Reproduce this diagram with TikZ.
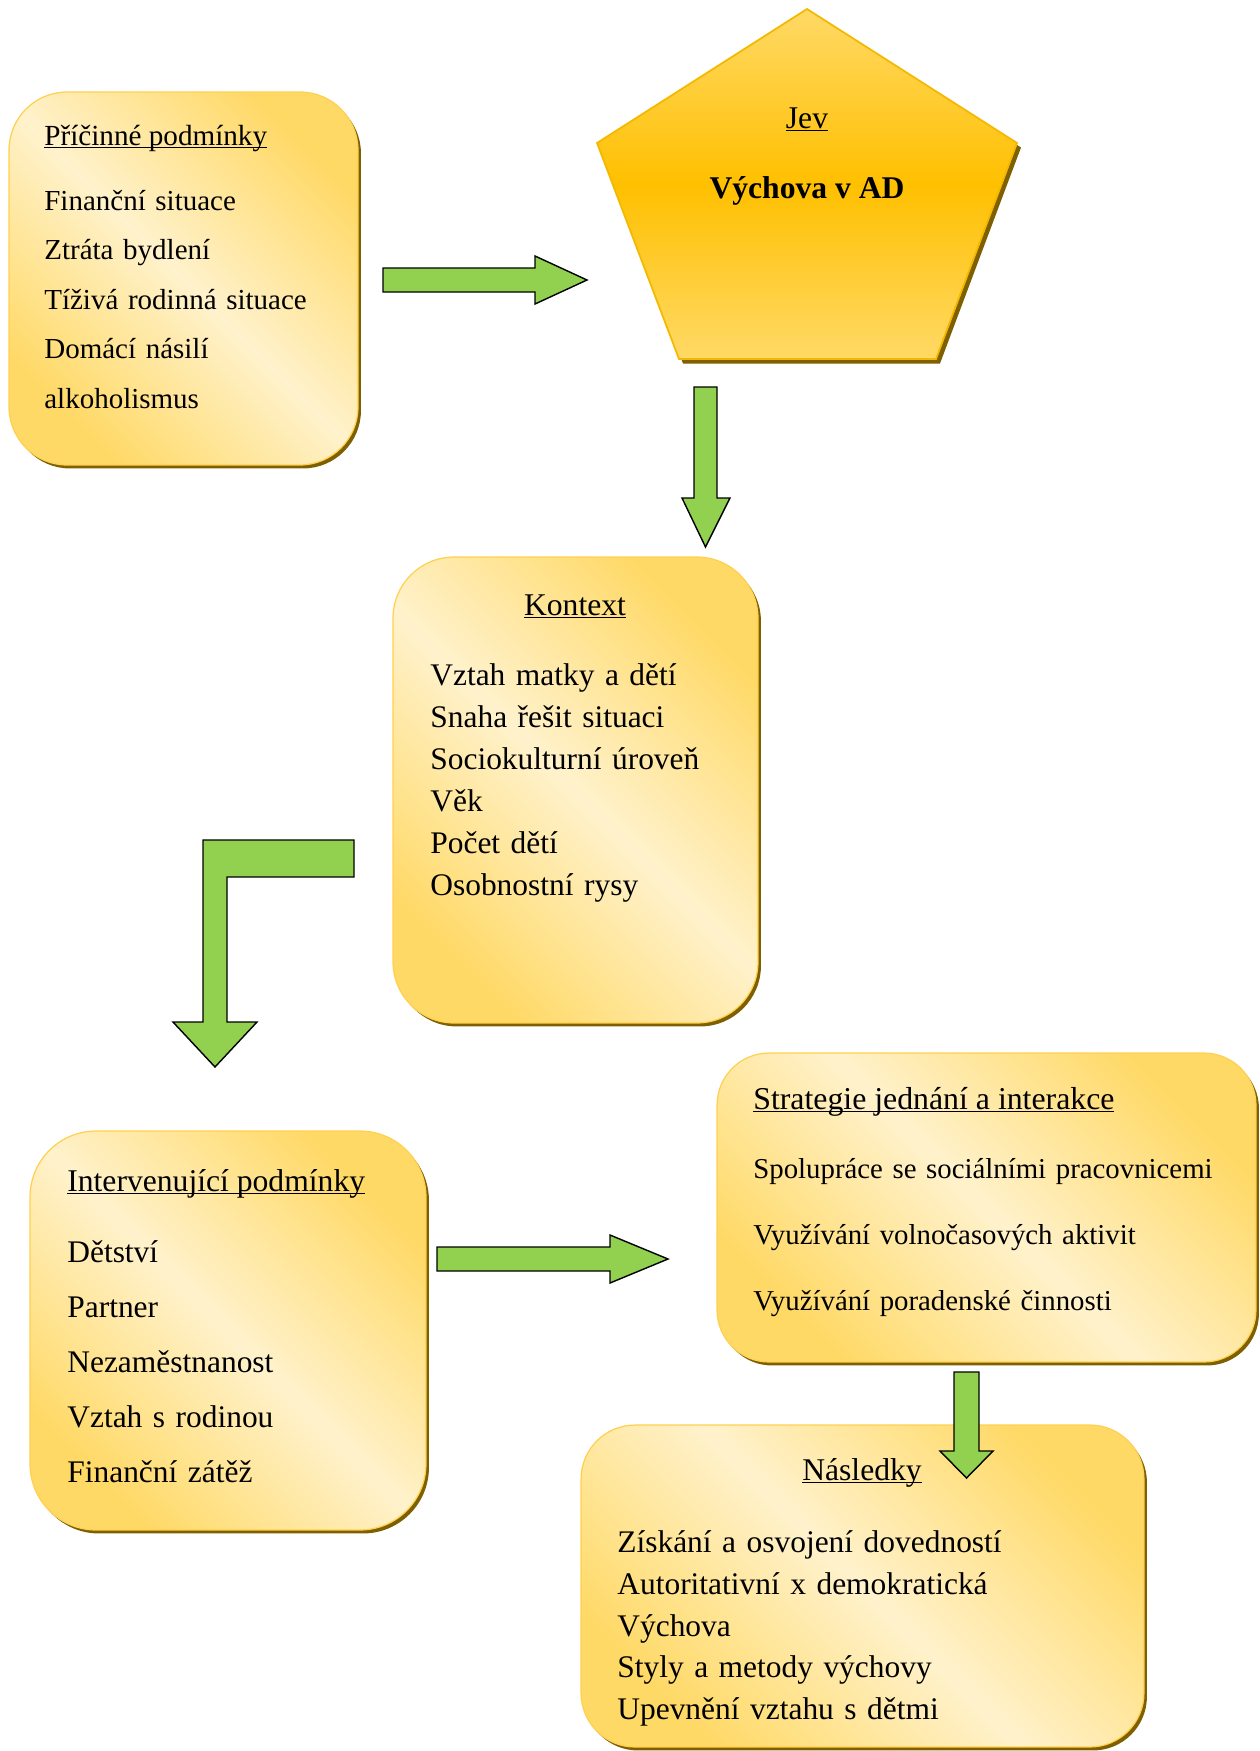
\documentclass[tikz,border=0pt]{standalone}
\usepackage{fontspec}
\setmainfont{Liberation Serif}
\usetikzlibrary{calc, positioning, shadows}

\definecolor{boxgold}{HTML}{FFD966}
\definecolor{boxcream}{HTML}{FFF2CC}
\definecolor{boxedge}{HTML}{FFD04F}
\definecolor{shadowbrown}{HTML}{7F6000}
\definecolor{jevgold}{HTML}{FFC000}
\definecolor{jevlight}{HTML}{FFD966}
\definecolor{jevedge}{HTML}{F5B800}
\definecolor{arrowgreen}{HTML}{92D050}

\newsavebox{\titlebox}
\newcommand{\undl}[1]{\sbox{\titlebox}{#1}\rlap{\rule[-1.7pt]{\wd\titlebox}{0.65pt}}\usebox{\titlebox}}

\tikzset{
    box/.style={rounded corners=#1, draw=boxedge, line width=0.7pt,
        top color=boxgold, bottom color=boxgold, middle color=boxcream,
        shading angle=-45,
        general shadow={fill=shadowbrown, shadow xshift=0.06cm, shadow yshift=-0.07cm}},
    jev/.style={draw=jevedge, line width=1pt, line join=miter,
        top color=jevlight, bottom color=jevlight, middle color=jevgold,
        general shadow={fill=shadowbrown, shadow xshift=0.08cm, shadow yshift=-0.09cm}},
    blockarrow/.style={fill=arrowgreen, draw=black, line width=0.8pt, line join=miter},
    title/.style={inner sep=0pt, anchor=base west},
    list/.style={inner sep=0pt, anchor=base west, align=left, text width=10cm}
}

\begin{document}
\begin{tikzpicture}[x=0.02cm, y=-0.02cm]
      \useasboundingbox (0,0) rectangle (1260,1751);

      % boxes
      \node[box=1.16cm, minimum width=6.98cm, minimum height=7.46cm] (pric) at (183.5,278.5) {};
      \node[box=1.22cm, minimum width=7.30cm, minimum height=9.32cm] (kont) at (575.5,790) {};
      \node[box=1.32cm, minimum width=7.92cm, minimum height=7.98cm] (interv) at (228,1330.5) {};
      \node[box=1.04cm, minimum width=10.78cm, minimum height=6.18cm] (strat) at (986.5,1207.5) {};
      \node[box=1.08cm, minimum width=11.26cm, minimum height=6.44cm] (nasl) at (862.5,1586) {};

      % pentagon
      \coordinate (jtop) at (807,9);
      \coordinate (jright) at (1017,143);
      \coordinate (jbr) at (936,359);
      \coordinate (jbl) at (679,359);
      \coordinate (jleft) at (597,143);
      \path[jev] (jtop) -- (jright) -- (jbr) -- (jbl) -- (jleft) -- cycle;

      % texts
      \node[title, font=\fontsize{16.6}{20}\selectfont] (pricT) at (44,145) {\undl{Příčinné podmínky}};
      \node[list, font=\fontsize{16.5}{28.2}\selectfont] (pricL) at (44,210)
        {Finanční situace\\ Ztráta bydlení\\ Tíživá rodinná situace\\ Domácí násilí\\ alkoholismus};

      \node[title, anchor=base, font=\fontsize{18}{22}\selectfont] (jevT) at (807,128) {\undl{Jev}};
      \node[title, anchor=base, font=\fontsize{18}{22}\selectfont\bfseries] (jevL) at (807,198) {Výchova v AD};

      \node[title, anchor=base, font=\fontsize{18}{22}\selectfont] (kontT) at (575,615) {\undl{Kontext}};
      \node[list, font=\fontsize{17.9}{24}\selectfont] (kontL) at (430,685)
        {Vztah matky a dětí\\ Snaha řešit situaci\\ Sociokulturní úroveň\\ Věk\\ Počet dětí\\ Osobnostní rysy};

      \node[title, font=\fontsize{18}{22}\selectfont] (intervT) at (67,1191) {\undl{Intervenující podmínky}};
      \node[list, font=\fontsize{17.9}{31.4}\selectfont] (intervL) at (67,1262)
        {Dětství\\ Partner\\ Nezaměstnanost\\ Vztah s rodinou\\ Finanční zátěž};

      \node[title, font=\fontsize{18.1}{22}\selectfont] (stratT) at (753,1109) {\undl{Strategie jednání a interakce}};
      \node[list, font=\fontsize{16.4}{37.8}\selectfont] (stratL) at (753,1178)
        {Spolupráce se sociálními pracovnicemi\\ Využívání volnočasových aktivit\\ Využívání poradenské činnosti};

      \node[title, anchor=base, font=\fontsize{18}{22}\selectfont] (naslT) at (862,1480) {\undl{Následky}};
      \node[list, font=\fontsize{17.9}{23.9}\selectfont] (naslL) at (617,1552)
        {Získání a osvojení dovedností\\ Autoritativní x demokratická\\ Výchova\\ Styly a metody výchovy\\ Upevnění vztahu s dětmi};

      % arrows
      \draw[blockarrow] (383,268) -- (535,268) -- (535,256) -- (587,280) -- (535,304) -- (535,292) -- (383,292) -- cycle;
      \draw[blockarrow] (694,387) -- (717,387) -- (717,498) -- (730,498) -- (705.5,547) -- (682,498) -- (694,498) -- cycle;
      \draw[blockarrow] (203,840) -- (354,840) -- (354,877) -- (227,877) -- (227,1022) -- (257,1022)
        -- (215,1067) -- (173,1022) -- (203,1022) -- cycle;
      \draw[blockarrow] (437,1247) -- (610,1247) -- (610,1235) -- (668,1259) -- (610,1283) -- (610,1271) -- (437,1271) -- cycle;
      \draw[blockarrow] (954,1372) -- (979,1372) -- (979,1451) -- (993,1451) -- (966.5,1478) -- (940,1451) -- (954,1451) -- cycle;
\end{tikzpicture}
\end{document}
